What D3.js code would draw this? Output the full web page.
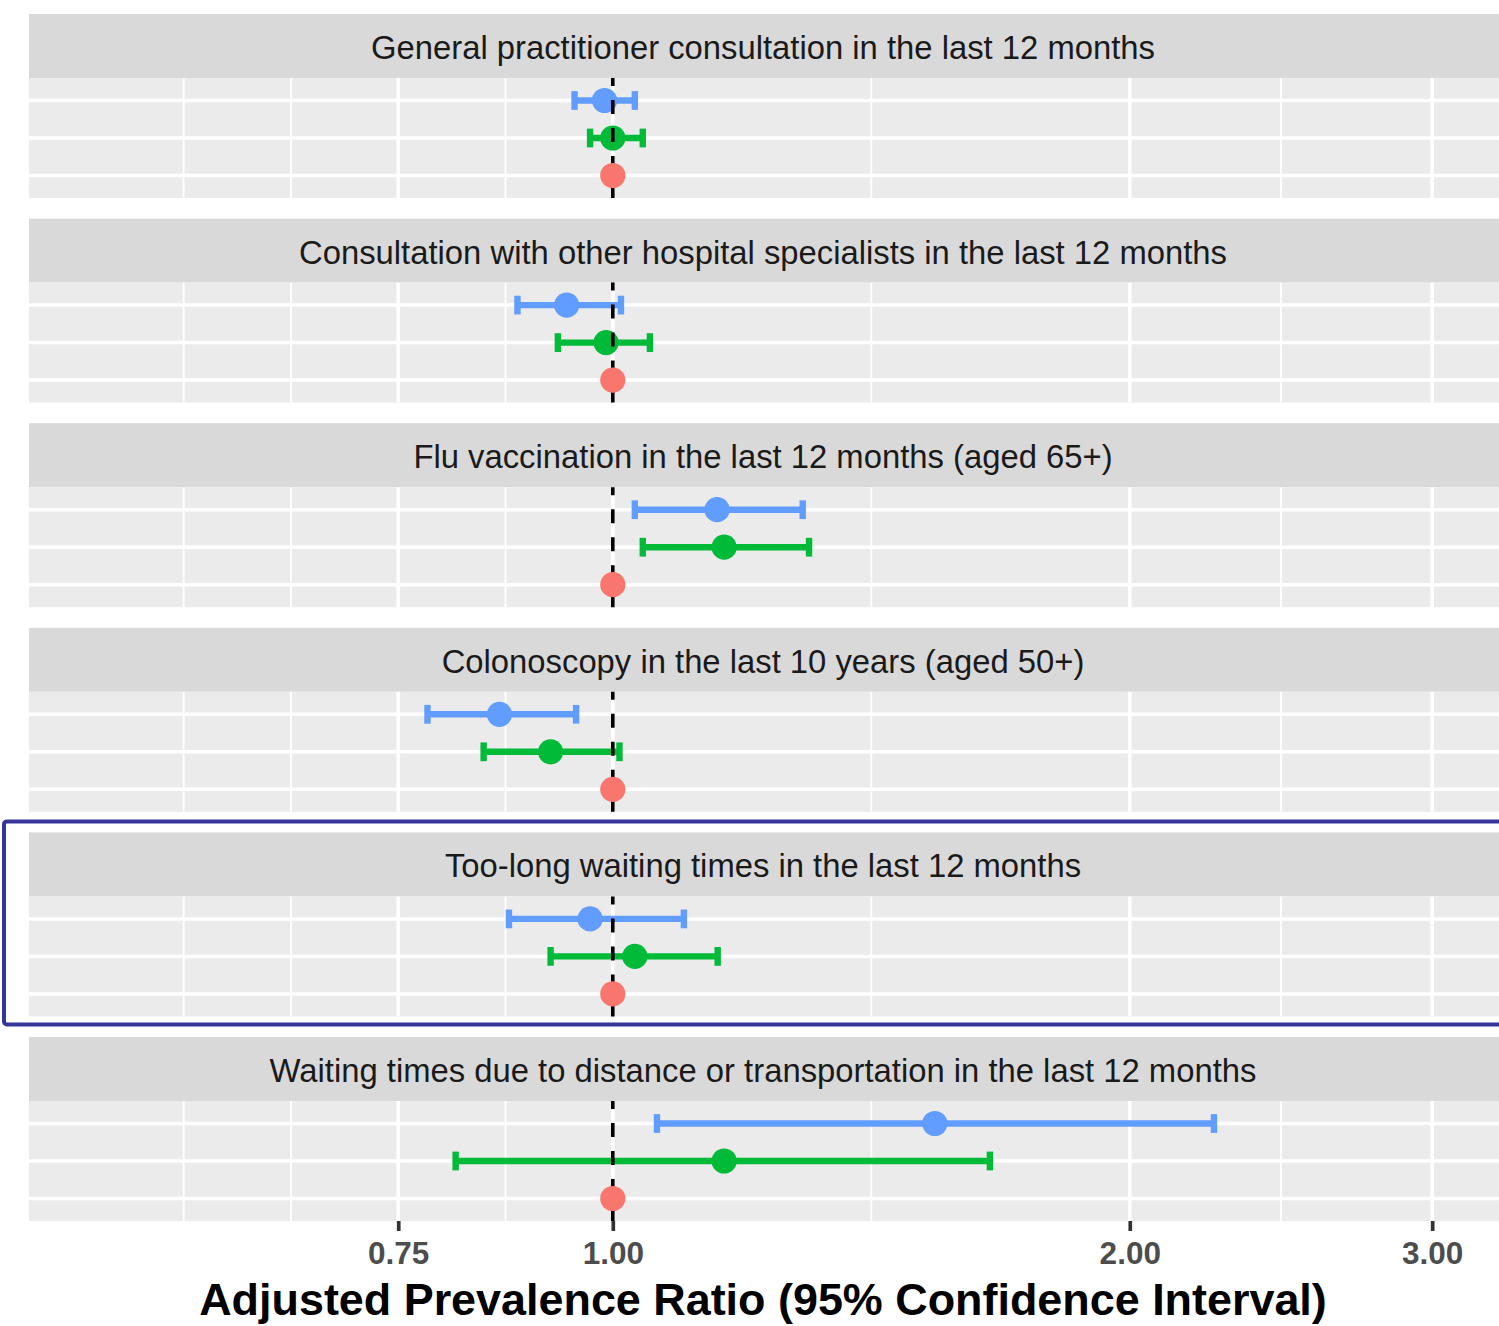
<!DOCTYPE html>
<html>
<head>
<meta charset="utf-8">
<script src="https://cdn.jsdelivr.net/npm/d3@7"></script>
<style>
  body { margin: 0; background: #fff; }
  svg { display: block; font-family: "Liberation Sans", Arial, sans-serif; }
</style>
</head>
<body>
<div id="chart"></div>
<script>
// Facets (outcomes), top to bottom
const outcomes = [
  "General practitioner consultation in the last 12 months",
  "Consultation with other hospital specialists in the last 12 months",
  "Flu vaccination in the last 12 months (aged 65+)",
  "Colonoscopy in the last 10 years (aged 50+)",
  "Too-long waiting times in the last 12 months",
  "Waiting times due to distance or transportation in the last 12 months"
];

// Groups, bottom row to top row inside each facet
const groups = ["Reference", "Group 2", "Group 3"];
const groupColors = ["#F8766D", "#00BA38", "#619CFF"];

// Adjusted prevalence ratios with 95% CI, one value per outcome
const refRatio = [1, 1, 1, 1, 1, 1];
const group2Ratio = [1.000, 0.991, 1.161, 0.920, 1.030, 1.161];
const group2Low   = [0.970, 0.929, 1.041, 0.841, 0.920, 0.810];
const group2High  = [1.041, 1.051, 1.301, 1.009, 1.151, 1.658];
const group3Ratio = [0.989, 0.940, 1.150, 0.859, 0.970, 1.540];
const group3Low   = [0.950, 0.880, 1.030, 0.780, 0.870, 1.061];
const group3High  = [1.030, 1.011, 1.290, 0.952, 1.100, 2.239];

const xTicks = [0.75, 1, 2, 3];
const xLimits = [0.5, 3];
const highlightedOutcome = 4;

const chartW = 1499, chartH = 1326;
const panelLeft = 29, panelRight = 1499;
const marginTop = 14, stripH = 64, panelH = 120, facetStep = 204.6;

// rows for drawing
const rows = [];
outcomes.forEach((o, i) => {
  rows.push({ outcome: o, group: groups[0], est: refRatio[i], lo: null, hi: null });
  rows.push({ outcome: o, group: groups[1], est: group2Ratio[i], lo: group2Low[i], hi: group2High[i] });
  rows.push({ outcome: o, group: groups[2], est: group3Ratio[i], lo: group3Low[i], hi: group3High[i] });
});

// log x scale with ggplot-like 5% expansion
const lg = xLimits.map(Math.log);
const pad = (lg[1] - lg[0]) * 0.05;
const x = d3.scaleLog()
  .domain([Math.exp(lg[0] - pad), Math.exp(lg[1] + pad)])
  .range([panelLeft, panelRight]);

// minor breaks: midpoints between majors in log space (one extra major each side)
const lt = xTicks.map(Math.log);
const bd = lt[1] - lt[0];
const ext = [lt[0] - bd, ...lt, lt[lt.length - 1] + bd];
const minorTicks = [];
for (let i = 0; i < ext.length - 1; i++) {
  minorTicks.push(Math.exp(ext[i]));
  minorTicks.push(Math.exp((ext[i] + ext[i + 1]) / 2));
}
const minorOnly = minorTicks.filter(v => !xTicks.some(t => Math.abs(t - v) < 1e-9));

const facetY = d3.scaleBand().domain(outcomes).range([marginTop, marginTop + facetStep * outcomes.length]);
const y = d3.scalePoint().domain(groups.slice().reverse()).range([0, panelH]).padding(0.6);
const color = d3.scaleOrdinal().domain(groups).range(groupColors);

const svg = d3.select("#chart").append("svg")
  .attr("width", chartW)
  .attr("height", chartH);

const defs = svg.append("defs");
defs.append("clipPath").attr("id", "panelClip")
  .append("rect").attr("x", panelLeft).attr("y", 0).attr("width", panelRight - panelLeft).attr("height", panelH);

outcomes.forEach((o, i) => {
  const g = svg.append("g").attr("transform", `translate(0,${facetY(o)})`);

  // strip
  g.append("rect")
    .attr("x", panelLeft).attr("y", 0)
    .attr("width", panelRight - panelLeft).attr("height", stripH)
    .attr("fill", "#D9D9D9");
  g.append("text")
    .attr("x", (panelLeft + panelRight) / 2 - 1)
    .attr("y", stripH / 2 + 13)
    .attr("text-anchor", "middle")
    .attr("font-size", 32.8)
    .attr("fill", "#1A1A1A")
    .text(o);

  // panel
  const p = g.append("g").attr("transform", `translate(0,${stripH})`);
  p.append("rect")
    .attr("x", panelLeft).attr("y", 0)
    .attr("width", panelRight - panelLeft).attr("height", panelH)
    .attr("fill", "#EBEBEB");

  const grid = p.append("g").attr("clip-path", "url(#panelClip)");
  grid.selectAll(".minor").data(minorOnly).enter().append("line")
    .attr("x1", d => x(d)).attr("x2", d => x(d))
    .attr("y1", 0).attr("y2", panelH)
    .attr("stroke", "#fff").attr("stroke-width", 1.9);
  grid.selectAll(".major").data(xTicks).enter().append("line")
    .attr("x1", d => x(d)).attr("x2", d => x(d))
    .attr("y1", 0).attr("y2", panelH)
    .attr("stroke", "#fff").attr("stroke-width", 3.7);
  grid.selectAll(".hgrid").data(groups).enter().append("line")
    .attr("x1", panelLeft).attr("x2", panelRight)
    .attr("y1", d => y(d)).attr("y2", d => y(d))
    .attr("stroke", "#fff").attr("stroke-width", 3.5);

  const data = rows.filter(r => r.outcome === o);
  const withCI = data.filter(r => r.lo !== null);
  const capH = y.step() * 0.5;

  // error bars
  const eb = p.selectAll(".eb").data(withCI).enter().append("g")
    .attr("stroke", d => color(d.group))
    .attr("stroke-width", 6.4)
    .attr("fill", "none");
  eb.append("line")
    .attr("x1", d => x(d.lo)).attr("x2", d => x(d.hi))
    .attr("y1", d => y(d.group)).attr("y2", d => y(d.group));
  eb.append("line")
    .attr("x1", d => x(d.lo)).attr("x2", d => x(d.lo))
    .attr("y1", d => y(d.group) - capH / 2).attr("y2", d => y(d.group) + capH / 2);
  eb.append("line")
    .attr("x1", d => x(d.hi)).attr("x2", d => x(d.hi))
    .attr("y1", d => y(d.group) - capH / 2).attr("y2", d => y(d.group) + capH / 2);

  p.selectAll(".pt").data(withCI).enter().append("circle")
    .attr("cx", d => x(d.est)).attr("cy", d => y(d.group))
    .attr("r", 12.6)
    .attr("fill", d => color(d.group));

  // reference line at 1
  p.append("line")
    .attr("x1", x(1)).attr("x2", x(1))
    .attr("y1", panelH).attr("y2", 0)
    .attr("stroke", "#000")
    .attr("stroke-width", 3.6)
    .attr("stroke-dasharray", "14,14");

  p.selectAll(".ref").data(data.filter(r => r.lo === null)).enter().append("circle")
    .attr("cx", d => x(d.est)).attr("cy", d => y(d.group))
    .attr("r", 12.6)
    .attr("fill", d => color(d.group));
});

// x axis under the last panel
const lastBottom = facetY(outcomes[outcomes.length - 1]) + stripH + panelH;
const axis = svg.append("g")
  .attr("transform", `translate(0,${lastBottom})`)
  .call(d3.axisBottom(x).tickValues(xTicks).tickFormat(d3.format(".2f")).tickSize(10).tickPadding(10));
axis.select(".domain").remove();
axis.selectAll(".tick line").attr("stroke", "#333333").attr("stroke-width", 3.7);
axis.selectAll(".tick text")
  .attr("font-family", "'Liberation Sans', Arial, sans-serif")
  .attr("font-size", 31.5)
  .attr("font-weight", "bold")
  .attr("fill", "#4D4D4D")
  .attr("y", 43)
  .attr("dy", 0);

svg.append("text")
  .attr("x", (panelLeft + panelRight) / 2 - 1)
  .attr("y", 1315)
  .attr("text-anchor", "middle")
  .attr("font-size", 44.9)
  .attr("font-weight", "bold")
  .attr("fill", "#000")
  .text("Adjusted Prevalence Ratio (95% Confidence Interval)");

// highlight box around one facet
const hy = facetY(outcomes[highlightedOutcome]);
svg.append("rect")
  .attr("x", 4).attr("y", hy - 11)
  .attr("width", chartW + 10).attr("height", stripH + panelH + 19)
  .attr("rx", 3)
  .attr("fill", "none")
  .attr("stroke", "#35359A")
  .attr("stroke-width", 4);
</script>
</body>
</html>
